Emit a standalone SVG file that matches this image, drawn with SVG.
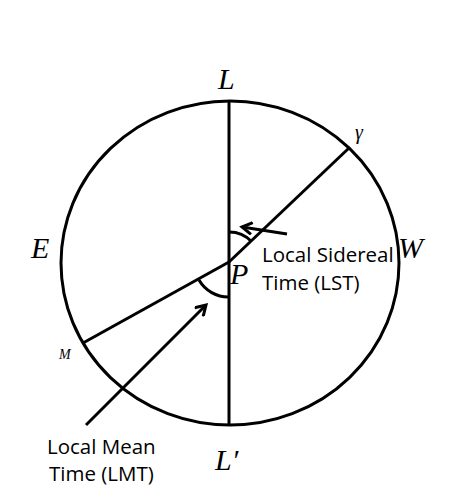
<svg xmlns="http://www.w3.org/2000/svg" width="454" height="494" viewBox="0 0 454 494">
<style>
.ln{fill:none;stroke:#000;stroke-width:3}
.sym{font-family:"Liberation Serif","Times New Roman",serif;font-style:italic;fill:#000}
.lbl{font-family:"Open Sans","Liberation Sans",sans-serif;font-size:20.5px;fill:#000}
</style>
<defs>
<marker id="ah" markerWidth="14" markerHeight="14" refX="11" refY="7" orient="auto" markerUnits="userSpaceOnUse">
<path d="M1,1 L11,7 L1,13" fill="none" stroke="#000" stroke-width="3"/>
</marker>
</defs>
<rect width="454" height="494" fill="#fff"/>
<g id="circle"><ellipse class="ln" cx="230" cy="263" rx="169" ry="162"/></g>
<g id="connectors">
<line class="ln" x1="229" y1="101" x2="229" y2="425"/>
<line class="ln" x1="229" y1="262" x2="349" y2="148"/>
<line class="ln" x1="229" y1="262" x2="83" y2="343"/>
<path class="ln" d="M229 232 A31 31 0 0 1 251.5 241.5"/>
<path class="ln" d="M199 280 A34 34 0 0 0 229 297"/>
<line class="ln" x1="287" y1="234" x2="242" y2="227" marker-end="url(#ah)"/>
<line class="ln" x1="86" y1="425" x2="206" y2="305" marker-end="url(#ah)"/>
</g>
<g id="L"><text class="sym" x="218" y="89" font-size="30">L</text></g>
<g id="gamma"><text class="sym" x="355" y="139" font-size="20">γ</text></g>
<g id="E"><text class="sym" x="31" y="258" font-size="30">E</text></g>
<g id="W"><text class="sym" x="398" y="258" font-size="30">W</text></g>
<g id="P"><text class="sym" x="230" y="284" font-size="30">P</text></g>
<g id="M"><text class="sym" x="59" y="359" font-size="14">M</text></g>
<g id="Lprime"><text class="sym" x="215" y="470" font-size="30">L′</text></g>
<g id="LST"><text class="lbl"><tspan x="262" y="262">Local Sidereal</tspan><tspan x="262" y="290">Time (LST)</tspan></text></g>
<g id="LMT"><text class="lbl"><tspan x="47" y="454">Local Mean</tspan><tspan x="49" y="481">Time (LMT)</tspan></text></g>
</svg>
